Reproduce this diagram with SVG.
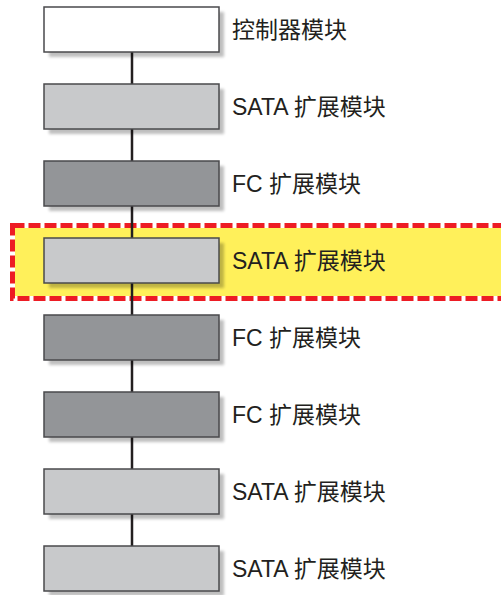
<svg xmlns="http://www.w3.org/2000/svg" width="501" height="595" viewBox="0 0 501 595">
<style>
.box{stroke:#4a4a4c;stroke-width:1.5}
.w{fill:#ffffff}
.l{fill:#c8c9cb}
.d{fill:#939598}
.t{font-family:"Liberation Sans","Noto Sans CJK SC",sans-serif;font-size:23px;fill:#231f20}
.sh{fill:#000;opacity:0.25;filter:url(#blur)}
</style>
<defs>
<filter id="blur" x="-10%" y="-30%" width="120%" height="160%"><feGaussianBlur stdDeviation="1.5"/></filter>
</defs>
<g id="highlight">
<rect x="12.5" y="225.5" width="500" height="73" fill="#fff05a" stroke="#ffffff" stroke-width="5"/>
<rect x="12.5" y="225.5" width="500" height="73" fill="none" stroke="#ed1c24" stroke-width="5" stroke-dasharray="12 4"/>
</g>
<g id="connectors">
<line x1="132" y1="52" x2="132" y2="546" stroke="#231f20" stroke-width="2.5"/>
</g>
<g id="n1"><rect class="sh" x="49" y="12" width="175" height="45"/><rect class="box w" x="44" y="7" width="175" height="45"/><text class="t" x="232" y="38">控制器模块</text></g>
<g id="n2"><rect class="sh" x="49" y="89" width="175" height="45"/><rect class="box l" x="44" y="84" width="175" height="45"/><text class="t" x="232" y="115">SATA 扩展模块</text></g>
<g id="n3"><rect class="sh" x="49" y="166" width="175" height="45"/><rect class="box d" x="44" y="161" width="175" height="45"/><text class="t" x="232" y="192">FC 扩展模块</text></g>
<g id="n4"><rect class="sh" x="49" y="243" width="175" height="45"/><rect class="box l" x="44" y="238" width="175" height="45"/><text class="t" x="232" y="269">SATA 扩展模块</text></g>
<g id="n5"><rect class="sh" x="49" y="320" width="175" height="45"/><rect class="box d" x="44" y="315" width="175" height="45"/><text class="t" x="232" y="346">FC 扩展模块</text></g>
<g id="n6"><rect class="sh" x="49" y="397" width="175" height="45"/><rect class="box d" x="44" y="392" width="175" height="45"/><text class="t" x="232" y="423">FC 扩展模块</text></g>
<g id="n7"><rect class="sh" x="49" y="474" width="175" height="45"/><rect class="box l" x="44" y="469" width="175" height="45"/><text class="t" x="232" y="500">SATA 扩展模块</text></g>
<g id="n8"><rect class="sh" x="49" y="551" width="175" height="45"/><rect class="box l" x="44" y="546" width="175" height="45"/><text class="t" x="232" y="577">SATA 扩展模块</text></g>
</svg>
